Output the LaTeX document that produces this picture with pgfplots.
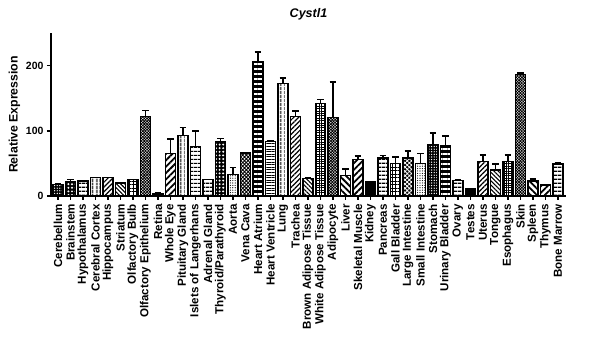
\documentclass[border=0pt]{standalone}
\usepackage{fontspec}
\setmainfont{Liberation Sans}
\usepackage{pgfplots}
\pgfplotsset{compat=1.18}
\usetikzlibrary{patterns, patterns.meta}

% pattern styles, roughly the Prism cycle
\tikzset{
  bk/.style={fill=black},
  wdots/.style={fill=black, postaction={pattern={Dots[radius=0.7pt, distance=2.6pt]}, pattern color=white}},
  wbig/.style={fill=black, postaction={pattern={Dots[radius=1.1pt, distance=3.6pt]}, pattern color=white}},
  dotsp/.style={pattern={Dots[radius=0.6pt, distance=2.4pt]}},
  hwide/.style={pattern={Lines[angle=0, distance=4pt, line width=1.5pt]}},
  hdense/.style={pattern={Lines[angle=0, distance=2.6pt, line width=1pt]}},
  vlin/.style={pattern={Lines[angle=90, distance=4pt, line width=1.3pt]}},
  ne/.style={pattern={Lines[angle=45, distance=3.4pt, line width=1.2pt]}},
  nethick/.style={pattern={Lines[angle=45, distance=4.5pt, line width=1.8pt]}},
  nw/.style={pattern={Lines[angle=-45, distance=3pt, line width=1.1pt]}},
  nwthick/.style={pattern={Lines[angle=-45, distance=4.5pt, line width=1.8pt]}},
  gridw/.style={pattern={Hatch[angle=0, distance=3.5pt, line width=1pt]}},
  gridd/.style={pattern={Hatch[angle=0, distance=2.4pt, line width=0.8pt]}},
  xhatch/.style={pattern={Hatch[angle=45, distance=2.6pt, line width=0.9pt]}},
  xdense/.style={pattern={Hatch[angle=45, distance=2pt, line width=0.8pt]}},
  wcross/.style={fill=black, postaction={pattern={Hatch[angle=45, distance=3pt, line width=0.8pt]}, pattern color=white}},
  check/.style={fill=black, postaction={pattern={Lines[angle=0, distance=5pt, line width=2pt]}, pattern color=white}},
}

\begin{document}
\begin{tikzpicture}
\useasboundingbox (-51pt,-143pt) rectangle (554pt,196pt);
\begin{axis}[
    scale only axis,
    width=515pt, height=163pt,
    xmin=-0.55, xmax=40.65, ymin=0, ymax=250,
    axis x line*=bottom, axis y line*=left,
    axis line style={line width=1.8pt, -},
    ybar, bar width=10pt,
    every axis plot/.append style={bar shift=0pt, draw=black, line width=1.4pt,
        error bars/y dir=plus, error bars/y explicit,
        error bars/error bar style={line width=1.6pt, black},
        error bars/error mark options={rotate=90, mark size=3.2pt, line width=1.6pt, black}},
    tick align=outside, major tick length=4pt,
    tick style={line width=1.5pt, black},
    ytick={0,100,200},
    xtick={0,...,40},
    xticklabels={Cerebellum, Brainstem, Hypothalamus, Cerebral Cortex, Hippocampus,
      Striatum, Olfactory Bulb, Olfactory Epithelium, Retina, Whole Eye,
      Pituitary Gland, Islets of Langerhans, Adrenal Gland, Thyroid/Parathyroid,
      Aorta, Vena Cava, Heart Atrium, Heart Ventricle, Lung, Trachea,
      Brown Adipose Tissue, White Adipose Tissue, Adipocyte, Liver,
      Skeletal Muscle, Kidney, Pancreas, Gall Bladder, Large Intestine,
      Small Intestine, Stomach, Urinary Bladder, Ovary, Testes, Uterus,
      Tongue, Esophagus, Skin, Spleen, Thymus, Bone Marrow},
    /pgf/number format/assume math mode=true,
    xticklabel shift={3pt},
    xticklabel style={rotate=90, anchor=east, inner sep=1pt,
        font=\bfseries\fontsize{11.6}{12}\selectfont},
    yticklabel style={font=\bfseries\fontsize{10.5}{12}\selectfont},
    ylabel={Relative Expression},
    ylabel style={font=\bfseries\fontsize{12.3}{14}\selectfont, yshift=-1pt},
    title={Cystl1},
    title style={font=\bfseries\itshape\fontsize{12.5}{14}\selectfont, yshift=3pt},
]
\addplot[wdots]   coordinates {(0,18) +- (0,1)};
\addplot[wbig]    coordinates {(1,22) +- (0,3)};
\addplot[hwide]   coordinates {(2,23) +- (0,0.5)};
\addplot[vlin]    coordinates {(3,28) +- (0,0.5)};
\addplot[ne]      coordinates {(4,28) +- (0,0.5)};
\addplot[nw]      coordinates {(5,20) +- (0,1)};
\addplot[gridw]   coordinates {(6,25) +- (0,0.5)};
\addplot[xdense]  coordinates {(7,122) +- (0,9)};
\addplot[bk]      coordinates {(8,4) +- (0,0.5)};
\addplot[nethick] coordinates {(9,65) +- (0,22)};
\addplot[vlin]    coordinates {(10,93) +- (0,12)};
\addplot[hwide]   coordinates {(11,76) +- (0,24)};
\addplot[hwide]   coordinates {(12,25) +- (0,0.5)};
\addplot[wbig]    coordinates {(13,84) +- (0,4)};
\addplot[dotsp]   coordinates {(14,33) +- (0,11)};
\addplot[xhatch]  coordinates {(15,66) +- (0,0.5)};
\addplot[check]   coordinates {(16,206) +- (0,15)};
\addplot[hdense]  coordinates {(17,84) +- (0,0.5)};
\addplot[vlin]    coordinates {(18,173) +- (0,8)};
\addplot[ne]      coordinates {(19,122) +- (0,8)};
\addplot[nw]      coordinates {(20,27) +- (0,0.5)};
\addplot[gridd]   coordinates {(21,142) +- (0,6)};
\addplot[xdense]  coordinates {(22,120) +- (0,55)};
\addplot[nwthick] coordinates {(23,31) +- (0,10)};
\addplot[nethick] coordinates {(24,56) +- (0,5)};
\addplot[bk]      coordinates {(25,22) +- (0,0.5)};
\addplot[hwide]   coordinates {(26,58) +- (0,4)};
\addplot[gridw]   coordinates {(27,50) +- (0,10)};
\addplot[wcross]  coordinates {(28,58) +- (0,11)};
\addplot[dotsp]   coordinates {(29,50) +- (0,15)};
\addplot[wdots]   coordinates {(30,79) +- (0,18)};
\addplot[check]   coordinates {(31,77) +- (0,15)};
\addplot[hwide]   coordinates {(32,24) +- (0,0.5)};
\addplot[bk]      coordinates {(33,11) +- (0,0.5)};
\addplot[ne]      coordinates {(34,53) +- (0,10)};
\addplot[nw]      coordinates {(35,40) +- (0,9)};
\addplot[gridd]   coordinates {(36,53) +- (0,10)};
\addplot[xdense]  coordinates {(37,186) +- (0,3)};
\addplot[nwthick] coordinates {(38,23) +- (0,3)};
\addplot[nethick] coordinates {(39,17) +- (0,0.5)};
\addplot[hwide]   coordinates {(40,49) +- (0,2)};
\end{axis}
\end{tikzpicture}
\end{document}
